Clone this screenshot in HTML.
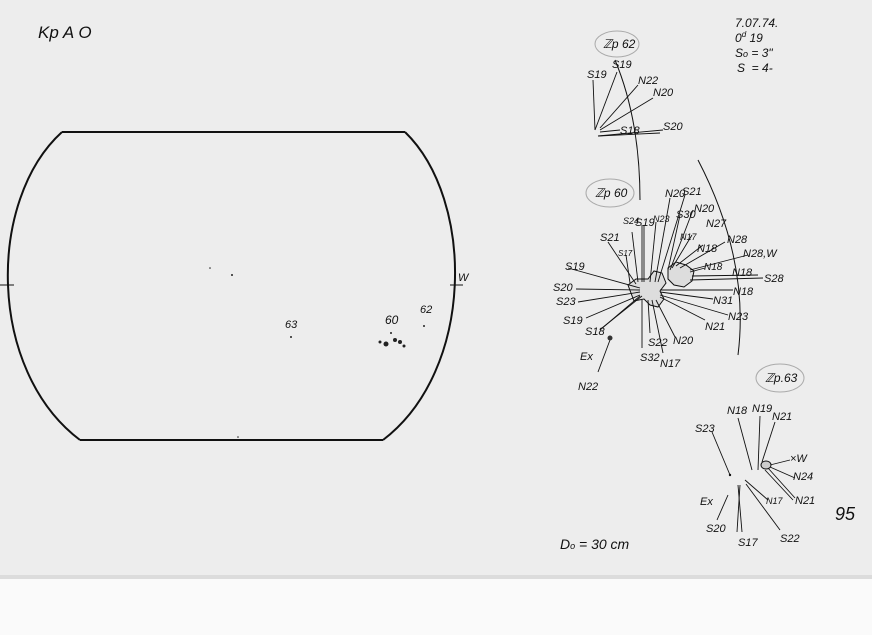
<!DOCTYPE html>
<html><head><meta charset="utf-8"><style>
html,body{margin:0;padding:0;background:#fff}
svg{display:block}
text{font-family:"Liberation Sans",sans-serif;font-style:italic;fill:#111}
</style></head><body>
<svg width="872" height="635" viewBox="0 0 872 635" xmlns="http://www.w3.org/2000/svg">
<rect width="872" height="635" fill="#fafafa"/>
<rect width="872" height="578" fill="#ededed"/>
<rect x="0" y="575" width="872" height="4" fill="#dcdcdc"/>
<g stroke="#111" stroke-width="2" fill="none">
<line x1="62" y1="132" x2="405" y2="132"/>
<line x1="80" y1="440" x2="383" y2="440"/>
<path d="M62,132 C-13,200 -13,370 80,440"/>
<path d="M405,132 C475,200 475,370 383,440"/>
</g>
<g stroke="#111" stroke-width="1" fill="none">
<line x1="0" y1="285" x2="14" y2="285"/>
<line x1="450" y1="285" x2="463" y2="285"/>
</g>
<text x="38" y="38" font-size="17">Kp A O</text>
<text x="458" y="281" font-size="11">W</text>
<text x="285" y="328" font-size="11">63</text>
<text x="385" y="324" font-size="12">60</text>
<text x="420" y="313" font-size="11">62</text>
<g fill="#222">
<circle cx="291" cy="337" r="1"/><circle cx="424" cy="326" r="1"/>
<circle cx="380" cy="342" r="1.5"/><circle cx="386" cy="344" r="2.5"/><circle cx="395" cy="340" r="2"/><circle cx="400" cy="342" r="2"/><circle cx="404" cy="346" r="1.5"/>
<circle cx="391" cy="333" r="1"/><circle cx="232" cy="275" r="1"/><circle cx="210" cy="268" r="0.8"/><circle cx="238" cy="437" r="0.8"/>
</g>
<g font-size="12">
<text x="735" y="27">7.07.74.</text>
<text x="735" y="42">0<tspan font-size="8" dy="-5">d</tspan><tspan dy="5"> 19</tspan></text>
<text x="735" y="57">S<tspan font-size="9">o</tspan> = 3"</text>
<text x="737" y="72">S&#160;&#160;= 4-</text>
<text x="560" y="549" font-size="14">D<tspan font-size="9">o</tspan> = 30 cm</text>
<text x="835" y="520" font-size="18" fill="#999">95</text>
</g>
<g stroke="#aaa" stroke-width="1" fill="none">
<ellipse cx="617" cy="44" rx="22" ry="13"/><ellipse cx="610" cy="193" rx="24" ry="14"/><ellipse cx="780" cy="378" rx="24" ry="14"/>
</g>
<g font-size="12">
<text x="603" y="48">ℤp 62</text><text x="595" y="197">ℤp 60</text><text x="765" y="382">ℤp.63</text>
</g>
<g stroke="#111" stroke-width="1" fill="none">
<path d="M615,60 Q640,120 640,200"/>
<path d="M698,160 Q750,260 738,355"/>
</g>
<g stroke="#111" stroke-width="0.9">
<line x1="595" y1="130" x2="593" y2="80"/><line x1="595" y1="130" x2="617" y2="72"/>
<line x1="600" y1="128" x2="638" y2="85"/><line x1="600" y1="130" x2="653" y2="98"/>
<line x1="600" y1="132" x2="620" y2="130"/><line x1="598" y1="136" x2="663" y2="130"/>
<line x1="598" y1="136" x2="660" y2="133"/>
</g>
<g font-size="11">
<text x="587" y="78">S19</text><text x="612" y="68">S19</text><text x="638" y="84">N22</text>
<text x="653" y="96">N20</text><text x="620" y="134">S18</text><text x="663" y="130">S20</text>
</g>
<g fill="#ddd" stroke="#111" stroke-width="1">
<path d="M628,285 l8,-6 l12,0 l6,-8 l8,2 l4,10 l-6,8 l4,8 l-6,8 l-8,-2 l-6,-6 l-10,2 z"/>
<path d="M668,268 l8,-6 l10,3 l8,6 l-2,10 l-8,6 l-10,-2 l-6,-6 z"/>
</g>
<g stroke="#111" stroke-width="0.9">
<line x1="640" y1="288" x2="568" y2="268"/><line x1="640" y1="290" x2="576" y2="289"/>
<line x1="640" y1="292" x2="578" y2="302"/><line x1="640" y1="295" x2="586" y2="318"/>
<line x1="640" y1="296" x2="600" y2="330"/><line x1="642" y1="296" x2="602" y2="328"/>
<line x1="636" y1="284" x2="608" y2="242"/><line x1="630" y1="283" x2="626" y2="255"/>
<line x1="638" y1="282" x2="632" y2="232"/><line x1="642" y1="282" x2="642" y2="225"/>
<line x1="644" y1="282" x2="644" y2="225"/><line x1="650" y1="282" x2="656" y2="222"/>
<line x1="655" y1="282" x2="670" y2="198"/><line x1="658" y1="282" x2="685" y2="195"/>
<line x1="668" y1="270" x2="680" y2="215"/><line x1="670" y1="270" x2="693" y2="210"/>
<line x1="672" y1="268" x2="692" y2="235"/><line x1="676" y1="266" x2="703" y2="245"/>
<line x1="680" y1="268" x2="725" y2="242"/><line x1="690" y1="270" x2="748" y2="255"/>
<line x1="690" y1="272" x2="705" y2="268"/><line x1="692" y1="276" x2="758" y2="275"/>
<line x1="690" y1="280" x2="763" y2="278"/><line x1="660" y1="290" x2="733" y2="290"/>
<line x1="660" y1="292" x2="713" y2="299"/><line x1="660" y1="295" x2="728" y2="315"/>
<line x1="660" y1="297" x2="705" y2="320"/><line x1="656" y1="300" x2="675" y2="337"/>
<line x1="652" y1="300" x2="663" y2="353"/><line x1="648" y1="300" x2="650" y2="333"/>
<line x1="642" y1="300" x2="642" y2="348"/><line x1="610" y1="340" x2="598" y2="372"/>
</g>
<circle cx="610" cy="338" r="2.5" fill="#333"/>
<g font-size="11">
<text x="565" y="270">S19</text><text x="553" y="291">S20</text><text x="556" y="305">S23</text>
<text x="563" y="324">S19</text><text x="585" y="335">S18</text><text x="580" y="360">Ex</text>
<text x="578" y="390">N22</text><text x="600" y="241">S21</text><text x="618" y="256" font-size="8">S17</text>
<text x="623" y="224" font-size="9">S24</text><text x="635" y="226">S19</text><text x="653" y="222" font-size="9">N23</text>
<text x="665" y="197">N20</text><text x="682" y="195">S21</text><text x="676" y="218">S30</text>
<text x="694" y="212">N20</text><text x="680" y="240" font-size="9">N17</text><text x="706" y="227">N27</text>
<text x="697" y="252">N18</text><text x="727" y="243">N28</text><text x="704" y="270" font-size="10">N18</text>
<text x="743" y="257">N28,W</text><text x="732" y="276">N18</text><text x="764" y="282">S28</text>
<text x="733" y="295">N18</text><text x="713" y="304">N31</text><text x="728" y="320">N23</text>
<text x="705" y="330">N21</text><text x="673" y="344">N20</text><text x="648" y="346">S22</text>
<text x="640" y="361">S32</text><text x="660" y="367">N17</text>
</g>
<g stroke="#111" stroke-width="0.9">
<line x1="730" y1="475" x2="712" y2="432"/><line x1="752" y1="470" x2="738" y2="418"/>
<line x1="758" y1="470" x2="760" y2="416"/><line x1="762" y1="462" x2="775" y2="422"/>
<line x1="770" y1="465" x2="790" y2="460"/><line x1="770" y1="467" x2="795" y2="478"/>
<line x1="768" y1="468" x2="795" y2="498"/><line x1="765" y1="470" x2="793" y2="500"/>
<line x1="745" y1="480" x2="768" y2="500"/><line x1="728" y1="495" x2="717" y2="520"/>
<line x1="738" y1="485" x2="742" y2="532"/><line x1="740" y1="485" x2="737" y2="532"/>
<line x1="746" y1="484" x2="780" y2="530"/>
</g>
<ellipse cx="766" cy="465" rx="5" ry="4" fill="#ccc" stroke="#111"/>
<circle cx="730" cy="475" r="1.2" fill="#111"/>
<g font-size="11">
<text x="695" y="432">S23</text><text x="727" y="414">N18</text><text x="752" y="412">N19</text>
<text x="772" y="420">N21</text><text x="790" y="462">×W</text><text x="793" y="480">N24</text>
<text x="795" y="504">N21</text><text x="766" y="504" font-size="9">N17</text><text x="700" y="505">Ex</text>
<text x="706" y="532">S20</text><text x="738" y="546">S17</text><text x="780" y="542">S22</text>
</g>
</svg>
</body></html>
